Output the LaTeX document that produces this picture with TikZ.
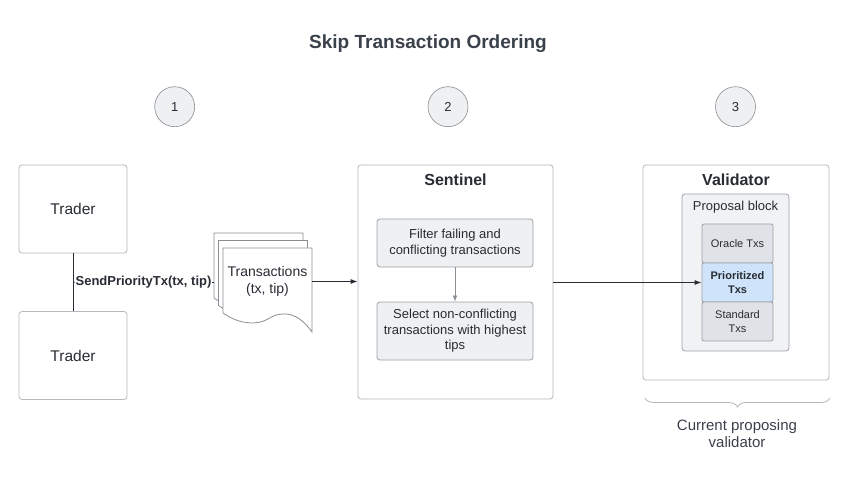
\documentclass[tikz,border=0pt]{standalone}
\usepackage{fontspec}
\setmainfont{Liberation Sans}
\usepackage{tikz}
\usetikzlibrary{arrows.meta}
\usetikzlibrary{decorations.pathreplacing}

\definecolor{ink}{HTML}{282C33}
\definecolor{titleink}{HTML}{3A414A}
\definecolor{frameline}{HTML}{B4B7BB}
\definecolor{stepfill}{HTML}{EEF0F2}
\definecolor{stepline}{HTML}{9EA2A7}
\definecolor{blockfill}{HTML}{F1F2F4}
\definecolor{txfill}{HTML}{DFE2E6}
\definecolor{prifill}{HTML}{CFE4FB}
\definecolor{docline}{HTML}{8A8E93}

\tikzset{
  frame/.style={draw=frameline, line width=0.8pt, rounded corners=3pt, fill=white, inner sep=0pt},
  frametitle/.style={font=\bfseries\fontsize{16}{19}\selectfont, text=ink},
  stepbox/.style={draw=stepline, fill=stepfill, line width=0.8pt, rounded corners=3pt, align=center,
    font=\fontsize{13}{15.5}\selectfont, text=ink, minimum width=156pt, inner sep=0pt},
  txbox/.style={draw=stepline, fill=txfill, line width=0.8pt, rounded corners=2pt, align=center,
    font=\fontsize{11}{13.5}\selectfont, text=ink, minimum width=71pt, minimum height=39pt, inner sep=0pt},
  stagemark/.style={circle, draw=docline, fill=stepfill, minimum size=40pt, inner sep=0pt,
    font=\fontsize{13}{15}\selectfont, text=ink, line width=0.6pt},
  flow/.style={draw=ink, line width=0.9pt, -{Latex[length=7pt,width=5pt]}},
}

\begin{document}
\begin{tikzpicture}[x=1pt,y=-1pt]
   \useasboundingbox (0,0) rectangle (848,478);

   % title and stage numbers
   \node [font=\bfseries\fontsize{19}{22}\selectfont, text=titleink] (title) at (428,43.5) {Skip Transaction Ordering};
   \node [stagemark] (stage1) at (174.7,106.7) {1};
   \node [stagemark] (stage2) at (448.0,106.7) {2};
   \node [stagemark] (stage3) at (735.5,106.7) {3};

   % traders
   \node [frame, minimum width=108pt, minimum height=88pt, font=\fontsize{15.5}{18}\selectfont, text=ink] (trader1) at (73,209) {Trader};
   \node [frame, minimum width=108pt, minimum height=88pt, font=\fontsize{15.5}{18}\selectfont, text=ink] (trader2) at (73,355.5) {Trader};
   \draw [ink, line width=0.9pt] (trader1) -- coordinate (send) (trader2);

   % stack of transactions
   \foreach \dx/\dy in {0/0, 4.5/7.5, 9/15}
      \draw [docline, fill=white, line width=0.8pt, shift={(\dx,\dy)}]
         (214,233) -- (303,233) -- (303,317)
         .. controls (289,297) and (273,295) .. (259,304)
         .. controls (249,310) and (231,310) .. (214,298) -- cycle;
   \node [align=center, font=\fontsize{14}{16.5}\selectfont, text=ink, minimum width=89pt, minimum height=68pt, inner sep=0pt] (txs) at (267.5,281.5) {Transactions\\(tx, tip)};
   \coordinate (stack) at (214,282.5);
   \draw [ink, line width=0.9pt] (send) -- node [fill=white, inner sep=1pt, font=\bfseries\fontsize{13}{15}\selectfont, text=ink] {SendPriorityTx(tx, tip)} (stack);

   % sentinel
   \node [frame, minimum width=195pt, minimum height=234pt] (sentinel) at (455.5,282) {};
   \node [frametitle] (sentineltitle) at (455.5,179.5) {Sentinel};
   \node [stepbox, minimum height=48pt] (filter) at (455,243) {Filter failing and\\conflicting transactions};
   \node [stepbox, minimum height=58pt] (select) at (455,331) {Select non-conflicting\\transactions with highest\\tips};
   \draw [draw=docline, line width=0.7pt, -{Latex[length=6pt,width=4.5pt]}] (filter) -- (select);

   % validator
   \node [frame, minimum width=186pt, minimum height=215pt] (validator) at (736,272.5) {};
   \node [frametitle] (validatortitle) at (736,179.5) {Validator};
   \node [frame, draw=stepline, fill=blockfill, minimum width=107pt, minimum height=157pt] (block) at (735.5,272.5) {};
   \node [font=\fontsize{13}{15}\selectfont, text=ink] (blocktitle) at (735.5,207) {Proposal block};
   \node [txbox] (oracle) at (737.5,243.5) {Oracle Txs};
   \node [txbox, fill=prifill, font=\bfseries\fontsize{11}{13.5}\selectfont] (prio) at (737.5,282.5) {Prioritized\\Txs};
   \node [txbox] (standard) at (737.5,321.5) {Standard\\Txs};

   % connectors
   \draw [flow] (txs.east) -- (sentinel.west |- txs.east);
   \draw [flow] (sentinel.east |- prio.west) -- (prio.west);

   % current proposer
   \draw [decorate, decoration={brace, amplitude=9pt}, draw=frameline, line width=0.8pt] (830,398) -- (645,398);
   \node [align=center, font=\fontsize{15}{16.7}\selectfont, text=titleink] (proposer) at (737,433.5) {Current proposing\\validator};
\end{tikzpicture}
\end{document}
